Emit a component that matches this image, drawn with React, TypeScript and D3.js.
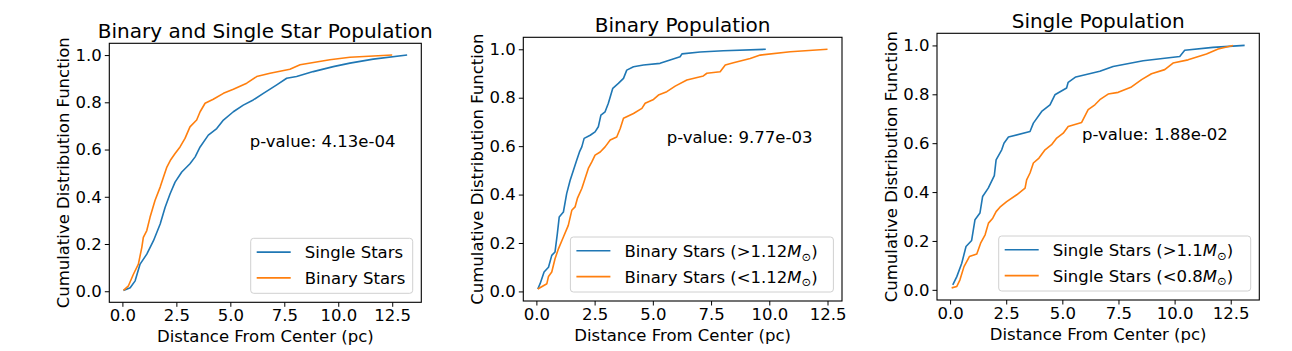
import { useRef, useEffect } from "react";
import * as d3 from "d3";

// Panel 1: binary vs single (distance in pc, CDF value)
const allSingleX = [0.05, 0.36, 0.59, 0.82, 1.13, 1.44, 1.75, 1.98, 2.21, 2.44, 2.75, 3.13, 3.37, 3.6, 3.98, 4.37, 4.68, 5.14, 5.6, 6.06, 6.53, 7.15, 7.61, 8.07, 8.84, 9.77, 10.54, 11.62, 13.19];
const allSingleY = [0.003, 0.015, 0.044, 0.115, 0.157, 0.214, 0.285, 0.356, 0.413, 0.462, 0.505, 0.54, 0.569, 0.611, 0.661, 0.689, 0.725, 0.76, 0.788, 0.81, 0.838, 0.874, 0.902, 0.909, 0.93, 0.951, 0.966, 0.983, 1.0];
const allBinaryX = [0.05, 0.28, 0.51, 0.74, 0.9, 0.97, 1.13, 1.28, 1.51, 1.75, 1.9, 2.06, 2.24, 2.44, 2.67, 2.9, 3.13, 3.44, 3.6, 3.83, 4.21, 4.68, 5.14, 5.76, 6.22, 6.84, 7.76, 8.23, 9.61, 10.54, 12.5];
const allBinaryY = [0.004, 0.023, 0.072, 0.115, 0.186, 0.228, 0.257, 0.313, 0.384, 0.441, 0.483, 0.526, 0.557, 0.583, 0.611, 0.647, 0.696, 0.725, 0.76, 0.796, 0.813, 0.838, 0.855, 0.881, 0.909, 0.923, 0.94, 0.959, 0.98, 0.991, 1.0];

// Panel 2: binaries split by mass
const binHighX = [0.06, 0.16, 0.33, 0.52, 0.66, 0.8, 0.9, 0.98, 1.16, 1.3, 1.45, 1.59, 1.73, 1.85, 1.95, 2.05, 2.31, 2.52, 2.66, 2.77, 2.95, 3.09, 3.28, 3.52, 3.74, 3.88, 4.17, 4.6, 5.31, 5.74, 6.17, 6.25, 7.03, 8.03, 9.85];
const binHighY = [0.01, 0.032, 0.08, 0.1, 0.149, 0.163, 0.239, 0.307, 0.328, 0.404, 0.459, 0.5, 0.542, 0.576, 0.597, 0.632, 0.645, 0.659, 0.68, 0.728, 0.742, 0.777, 0.839, 0.859, 0.88, 0.914, 0.928, 0.935, 0.942, 0.956, 0.969, 0.981, 0.989, 0.994, 1.0];
const binLowX = [0.06, 0.45, 0.52, 0.66, 0.8, 0.95, 1.16, 1.37, 1.52, 1.66, 1.76, 1.95, 2.09, 2.23, 2.38, 2.52, 2.74, 2.95, 3.17, 3.45, 3.6, 3.74, 4.17, 4.53, 4.67, 5.03, 5.24, 5.6, 5.96, 6.46, 7.17, 7.32, 7.89, 8.11, 8.46, 9.18, 9.61, 10.9, 12.5];
const binLowY = [0.01, 0.032, 0.062, 0.08, 0.135, 0.177, 0.225, 0.273, 0.335, 0.349, 0.384, 0.425, 0.466, 0.508, 0.535, 0.563, 0.576, 0.597, 0.625, 0.638, 0.673, 0.715, 0.735, 0.756, 0.777, 0.793, 0.811, 0.825, 0.848, 0.873, 0.89, 0.901, 0.907, 0.935, 0.944, 0.962, 0.976, 0.99, 1.0];

// Panel 3: singles split by mass
const sglHighX = [0.12, 0.3, 0.52, 0.71, 0.96, 1.11, 1.33, 1.45, 1.7, 1.97, 2.05, 2.3, 2.4, 2.6, 3.56, 3.71, 4.08, 4.45, 4.67, 5.19, 5.26, 5.6, 6.67, 7.26, 8.6, 10.23, 10.45, 11.71, 13.12];
const sglHighY = [0.02, 0.054, 0.109, 0.177, 0.202, 0.287, 0.314, 0.382, 0.416, 0.467, 0.532, 0.573, 0.6, 0.625, 0.648, 0.682, 0.73, 0.757, 0.798, 0.826, 0.849, 0.871, 0.894, 0.914, 0.937, 0.955, 0.98, 0.992, 1.0];
const sglLowX = [0.07, 0.3, 0.44, 0.62, 0.86, 1.19, 1.36, 1.56, 1.71, 1.9, 2.05, 2.22, 2.52, 2.97, 3.34, 3.41, 3.56, 3.71, 3.96, 4.23, 4.52, 4.75, 5.04, 5.26, 5.86, 6.15, 6.45, 6.67, 7.04, 7.49, 8.08, 8.53, 8.97, 9.56, 9.93, 10.6, 11.42, 11.94, 12.6];
const sglLowY = [0.008, 0.014, 0.041, 0.095, 0.136, 0.147, 0.191, 0.225, 0.273, 0.293, 0.32, 0.338, 0.361, 0.389, 0.416, 0.45, 0.478, 0.519, 0.539, 0.573, 0.594, 0.621, 0.641, 0.668, 0.685, 0.737, 0.757, 0.778, 0.801, 0.808, 0.83, 0.86, 0.884, 0.901, 0.928, 0.941, 0.965, 0.985, 1.0];

const xTicks = [0, 2.5, 5, 7.5, 10, 12.5];
const yTicks = [0, 0.2, 0.4, 0.6, 0.8, 1.0];
const titles = ["Binary and Single Star Population", "Binary Population", "Single Population"];
const pValues = ["p-value: 4.13e-04", "p-value: 9.77e-03", "p-value: 1.88e-02"];

type Part = { t: string; italic?: boolean; sub?: boolean };
const legendLabels: Part[][][] = [
  [[{ t: "Single Stars" }], [{ t: "Binary Stars" }]],
  [
    [{ t: "Binary Stars (>1.12" }, { t: "M", italic: true }, { t: "⊙", sub: true }, { t: ")" }],
    [{ t: "Binary Stars (<1.12" }, { t: "M", italic: true }, { t: "⊙", sub: true }, { t: ")" }],
  ],
  [
    [{ t: "Single Stars (>1.1" }, { t: "M", italic: true }, { t: "⊙", sub: true }, { t: ")" }],
    [{ t: "Single Stars (<0.8" }, { t: "M", italic: true }, { t: "⊙", sub: true }, { t: ")" }],
  ],
];

const seriesByPanel = [
  [{ x: allSingleX, y: allSingleY }, { x: allBinaryX, y: allBinaryY }],
  [{ x: binHighX, y: binHighY }, { x: binLowX, y: binLowY }],
  [{ x: sglHighX, y: sglHighY }, { x: sglLowX, y: sglLowY }],
];

// layout of the three axes boxes (pixels)
const layout = [
  { left: 109.3, right: 421.3, top: 43.3, bottom: 302.3, legendW: 162 },
  { left: 523.3, right: 842, top: 37.3, bottom: 301, legendW: 263 },
  { left: 937, right: 1259.3, top: 33.3, bottom: 300, legendW: 252 },
];

const COLORS = ["#1f77b4", "#ff7f0e"];
const FONT = "'DejaVu Sans', sans-serif";
const FS = 16.5;

export default function App() {
  const svgRef = useRef<SVGSVGElement>(null);

  useEffect(() => {
    if (!svgRef.current) return;
    const svg = d3.select(svgRef.current);
    svg.selectAll("*").remove();

    layout.forEach((box, pi) => {
      const series = seriesByPanel[pi];
      const allX = series.flatMap((s) => s.x);
      const allY = series.flatMap((s) => s.y);
      const [x0, x1] = d3.extent(allX) as [number, number];
      const [y0, y1] = d3.extent(allY) as [number, number];
      const xPad = (x1 - x0) * 0.05;
      const yPad = (y1 - y0) * 0.05;

      const xScale = d3.scaleLinear().domain([x0 - xPad, x1 + xPad]).range([box.left, box.right]);
      const yScale = d3.scaleLinear().domain([y0 - yPad, y1 + yPad]).range([box.bottom, box.top]);

      const g = svg.append("g").attr("font-family", FONT);

      // curves
      series.forEach((s, si) => {
        const pts = s.x.map((v, i) => [v, s.y[i]] as [number, number]);
        const line = d3
          .line<[number, number]>()
          .x((d) => xScale(d[0]))
          .y((d) => yScale(d[1]));
        g.append("path")
          .datum(pts)
          .attr("fill", "none")
          .attr("stroke", COLORS[si])
          .attr("stroke-width", 1.6)
          .attr("stroke-linejoin", "round")
          .attr("d", line);
      });

      // x axis
      g.append("g")
        .attr("transform", `translate(0,${box.bottom})`)
        .call(d3.axisBottom(xScale).tickValues(xTicks).tickFormat(d3.format(".1f")).tickSizeOuter(0).tickSize(4.5).tickPadding(2.5))
        .call((axis) => {
          axis.select(".domain").remove();
          axis.selectAll(".tick line").attr("stroke", "#000").attr("stroke-width", 1);
          axis.selectAll(".tick text").attr("fill", "#000").attr("font-size", FS).attr("font-family", FONT);
        });

      // y axis
      g.append("g")
        .attr("transform", `translate(${box.left},0)`)
        .call(d3.axisLeft(yScale).tickValues(yTicks).tickFormat(d3.format(".1f")).tickSizeOuter(0).tickSize(4.5).tickPadding(3))
        .call((axis) => {
          axis.select(".domain").remove();
          axis.selectAll(".tick line").attr("stroke", "#000").attr("stroke-width", 1);
          axis.selectAll(".tick text").attr("fill", "#000").attr("font-size", FS).attr("font-family", FONT);
        });

      // frame
      g.append("rect")
        .attr("x", box.left)
        .attr("y", box.top)
        .attr("width", box.right - box.left)
        .attr("height", box.bottom - box.top)
        .attr("fill", "none")
        .attr("stroke", "#000")
        .attr("stroke-width", 1.1);

      const cx = (box.left + box.right) / 2;
      const cy = (box.top + box.bottom) / 2;

      // title
      g.append("text")
        .attr("x", cx)
        .attr("y", box.top - 5.7)
        .attr("text-anchor", "middle")
        .attr("font-size", 20)
        .text(titles[pi]);

      // axis labels
      g.append("text")
        .attr("x", cx)
        .attr("y", box.bottom + 39.5)
        .attr("text-anchor", "middle")
        .attr("font-size", FS)
        .text("Distance From Center (pc)");

      g.append("text")
        .attr("transform", `translate(${box.left - 40},${cy}) rotate(-90)`)
        .attr("text-anchor", "middle")
        .attr("font-size", FS)
        .text("Cumulative Distribution Function");

      // p-value annotation (axes fraction 0.45, 0.6)
      g.append("text")
        .attr("x", box.left + 0.45 * (box.right - box.left))
        .attr("y", box.bottom - 0.6 * (box.bottom - box.top))
        .attr("font-size", FS)
        .text(pValues[pi]);

      // legend
      const lh = 55;
      const lx = box.right - 8.6 - box.legendW;
      const ly = box.bottom - 9 - lh;
      const lg = g.append("g");
      lg.append("rect")
        .attr("x", lx)
        .attr("y", ly)
        .attr("width", box.legendW)
        .attr("height", lh)
        .attr("rx", 3)
        .attr("fill", "#fff")
        .attr("fill-opacity", 0.8)
        .attr("stroke", "#d0d0d0")
        .attr("stroke-width", 1);

      legendLabels[pi].forEach((parts, li) => {
        const rowY = ly + 13.8 + li * 25.8;
        lg.append("line")
          .attr("x1", lx + 6)
          .attr("x2", lx + 40)
          .attr("y1", rowY)
          .attr("y2", rowY)
          .attr("stroke", COLORS[li])
          .attr("stroke-width", 1.6);
        const t = lg.append("text").attr("x", lx + 54).attr("y", rowY + 6.2).attr("font-size", FS);
        parts.forEach((p) => {
          const span = t.append("tspan").text(p.t);
          if (p.italic) span.attr("font-style", "italic");
          if (p.sub) span.attr("font-size", 11.5).attr("dy", 3.5);
          else if (p.t === ")") span.attr("dy", -3.5);
        });
      });
    });
  }, []);

  return (
    <svg
      ref={svgRef}
      width={1292}
      height={351}
      style={{ position: "absolute", left: 0, top: 0, background: "#fff" }}
    />
  );
}
